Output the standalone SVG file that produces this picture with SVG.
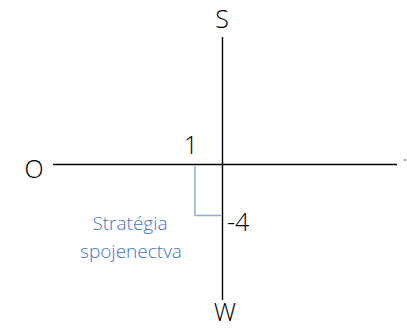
<svg xmlns="http://www.w3.org/2000/svg" width="407" height="328" viewBox="0 0 407 328">
<style>
.ax{stroke:#000;stroke-width:1.4;fill:none}
.lbl{font-family:"Open Sans","Liberation Sans",sans-serif;font-weight:300;font-size:25px;fill:#000}
.blue{stroke:#8EA9DB;stroke-width:1.4;fill:none}
.bt{font-family:"Open Sans","Liberation Sans",sans-serif;font-weight:300;font-size:19px;fill:#4472C4;text-anchor:middle}
</style>
<rect width="407" height="328" fill="#fff"/>
<g id="connectors">
<line class="ax" x1="222.5" y1="37" x2="222.5" y2="300"/>
<line class="ax" x1="53" y1="164.5" x2="397" y2="164.5"/>
<polyline class="blue" points="195,166 195,215.5 221,215.5"/>
</g>
<g id="S"><text class="lbl" x="222" y="27.5" text-anchor="middle">S</text></g>
<g id="O"><text class="lbl" x="34" y="178" text-anchor="middle">O</text></g>
<g id="W"><text class="lbl" x="225" y="321" text-anchor="middle">W</text></g>
<g id="one"><text class="lbl" x="191" y="154" text-anchor="middle">1</text></g>
<g id="minus4"><text class="lbl" x="227" y="231">-4</text></g>
<g id="dot"><rect x="404" y="159" width="2" height="2" fill="#999"/></g>
<g id="strategia"><text class="bt" x="130" y="230">Stratégia</text><text class="bt" x="131" y="258">spojenectva</text></g>
</svg>
